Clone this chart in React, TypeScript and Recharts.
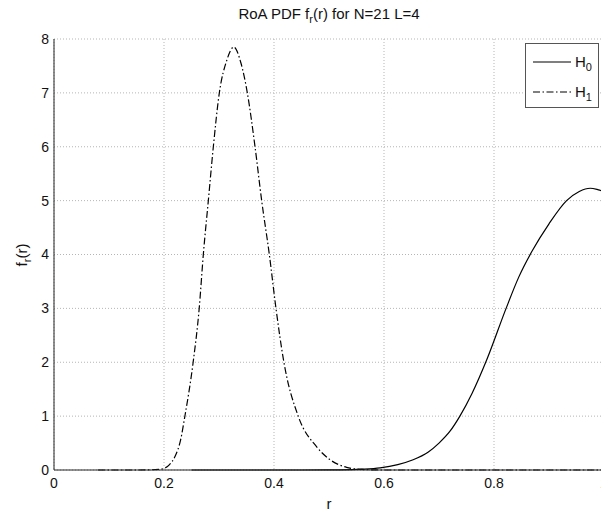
import { LineChart, Line, XAxis, YAxis, CartesianGrid } from 'recharts'

// RoA PDF f_r(r), N=21 L=4: H0 (solid) vs H1 (dash-dot)
const h0R = [0.25, 0.45, 0.52, 0.56, 0.593, 0.625, 0.653, 0.68, 0.7, 0.72, 0.738, 0.76, 0.787, 0.822, 0.845, 0.8685, 0.9, 0.932, 0.955, 0.975, 0.99, 1.0]
const h0F = [0, 0, 0.003, 0.015, 0.04, 0.1, 0.19, 0.33, 0.5, 0.72, 1.0, 1.42, 2.05, 3.0, 3.58, 4.05, 4.57, 5.0, 5.17, 5.23, 5.2, 5.17]

const h1R = [0.08, 0.15, 0.19, 0.2, 0.21, 0.22, 0.23, 0.238, 0.253, 0.264, 0.2715, 0.2806, 0.2897, 0.3006, 0.314, 0.327, 0.34, 0.3515, 0.3655, 0.3776, 0.3915, 0.4036, 0.418, 0.444, 0.4776, 0.502, 0.532, 0.56, 0.6, 0.8, 1.0]
const h1F = [0, 0, 0.01, 0.03, 0.1, 0.25, 0.55, 1.0, 2, 3, 4, 5, 6, 7, 7.6, 7.85, 7.55, 7, 6, 5, 4, 3, 2, 1, 0.43, 0.19, 0.05, 0.01, 0, 0, 0]

const xTicks = [0, 0.2, 0.4, 0.6, 0.8, 1]
const yTicks = [0, 1, 2, 3, 4, 5, 6, 7, 8]

const h0Data = h0R.map((r, i) => ({ r, f: h0F[i] }))
const h1Data = h1R.map((r, i) => ({ r, f: h1F[i] }))

const FONT = '"Liberation Sans", Arial, sans-serif'
const INK = '#111'
const DASHDOT = '7 2.5 1.5 2.5'

export default function App() {
  return (
    <div style={{ position: 'fixed', left: 0, top: 0, width: 601, height: 513, overflow: 'hidden', background: '#fff', fontFamily: FONT }}>
      <LineChart width={620} height={513} margin={{ top: 39, right: 16, left: 10, bottom: 0 }}>
        <CartesianGrid stroke="#b5b5b5" strokeDasharray="1 2" />
        <XAxis
          type="number"
          dataKey="r"
          domain={[0, 1]}
          ticks={xTicks}
          allowDataOverflow
          height={43}
          tickLine={false}
          tickSize={6}
          tickMargin={2}
          stroke="#222"
          tick={{ fontSize: 14, fill: INK, fontFamily: FONT }}
        />
        <YAxis
          type="number"
          domain={[0, 8]}
          ticks={yTicks}
          width={44}
          tickLine={false}
          tickSize={3}
          tickMargin={2}
          stroke="#222"
          tick={{ fontSize: 14, fill: INK, fontFamily: FONT }}
        />
        <Line data={h0Data} dataKey="f" type="monotone" stroke="#000" strokeWidth={1.2} dot={false} isAnimationActive={false} />
        <Line data={h1Data} dataKey="f" type="monotone" stroke="#000" strokeWidth={1.2} strokeDasharray={DASHDOT} dot={false} isAnimationActive={false} />
      </LineChart>

      <svg width={601} height={513} style={{ position: 'absolute', left: 0, top: 0, pointerEvents: 'none' }} fontFamily={FONT} fill={INK}>
        {/* title */}
        <text x={329} y={19} textAnchor="middle" fontSize={15}>
          RoA PDF f<tspan dy={4} fontSize={11}>r</tspan><tspan dy={-4}>(r) for N=21 L=4</tspan>
        </text>
        {/* axis labels */}
        <text x={329} y={509} textAnchor="middle" fontSize={15}>r</text>
        <text transform="translate(27, 255) rotate(-90)" textAnchor="middle" fontSize={15}>
          f<tspan dy={4} fontSize={11}>r</tspan><tspan dy={-4}>(r)</tspan>
        </text>
        {/* legend */}
        <rect x={525.5} y={43.5} width={73} height={64} fill="#fff" stroke="#555" />
        <line x1={533} y1={62} x2={571} y2={62} stroke="#000" strokeWidth={1.2} />
        <text x={575} y={67} fontSize={15}>H<tspan dy={4} fontSize={11}>0</tspan></text>
        <line x1={533} y1={92} x2={571} y2={92} stroke="#000" strokeWidth={1.2} strokeDasharray={DASHDOT} />
        <text x={575} y={97} fontSize={15}>H<tspan dy={4} fontSize={11}>1</tspan></text>
      </svg>
    </div>
  )
}
